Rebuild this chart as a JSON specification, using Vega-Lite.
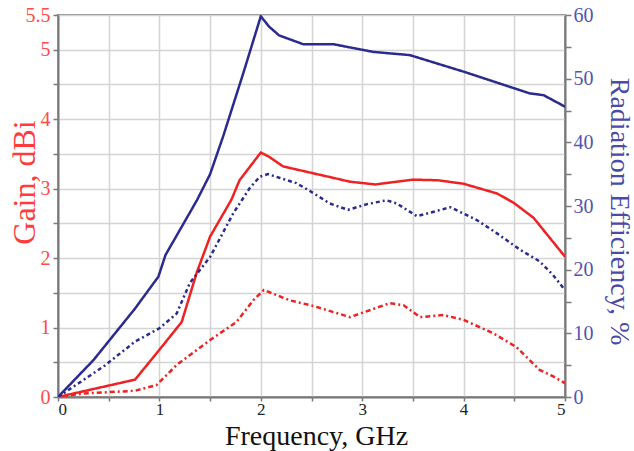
{
  "$schema": "https://vega.github.io/schema/vega-lite/v6.json",
  "width": 507,
  "height": 382,
  "autosize": "none",
  "padding": {"left": 58, "top": 15, "right": 69, "bottom": 54},
  "background": "white",
  "config": {
    "view": {"stroke": "#8a8a8a", "strokeWidth": 2},
    "font": "Liberation Serif"
  },
  "datasets": {
    "gain": [
      {"f": 0, "v": 0, "s": "Gain"},
      {"f": 0.76, "v": 0.25, "s": "Gain"},
      {"f": 1.0, "v": 0.68, "s": "Gain"},
      {"f": 1.22, "v": 1.08, "s": "Gain"},
      {"f": 1.37, "v": 1.8, "s": "Gain"},
      {"f": 1.5, "v": 2.31, "s": "Gain"},
      {"f": 1.71, "v": 2.84, "s": "Gain"},
      {"f": 1.79, "v": 3.12, "s": "Gain"},
      {"f": 2.0, "v": 3.52, "s": "Gain"},
      {"f": 2.08, "v": 3.46, "s": "Gain"},
      {"f": 2.22, "v": 3.32, "s": "Gain"},
      {"f": 2.58, "v": 3.2, "s": "Gain"},
      {"f": 2.88, "v": 3.1, "s": "Gain"},
      {"f": 3.13, "v": 3.06, "s": "Gain"},
      {"f": 3.5, "v": 3.13, "s": "Gain"},
      {"f": 3.75, "v": 3.12, "s": "Gain"},
      {"f": 4.0, "v": 3.07, "s": "Gain"},
      {"f": 4.33, "v": 2.93, "s": "Gain"},
      {"f": 4.49, "v": 2.8, "s": "Gain"},
      {"f": 4.69, "v": 2.58, "s": "Gain"},
      {"f": 5.0, "v": 2.02, "s": "Gain"},
      {"f": 0, "v": 0, "s": "Gain2"},
      {"f": 0.25, "v": 0.05, "s": "Gain2"},
      {"f": 0.76, "v": 0.09, "s": "Gain2"},
      {"f": 0.97, "v": 0.17, "s": "Gain2"},
      {"f": 1.17, "v": 0.46, "s": "Gain2"},
      {"f": 1.5, "v": 0.82, "s": "Gain2"},
      {"f": 1.76, "v": 1.08, "s": "Gain2"},
      {"f": 1.93, "v": 1.4, "s": "Gain2"},
      {"f": 2.03, "v": 1.54, "s": "Gain2"},
      {"f": 2.29, "v": 1.39, "s": "Gain2"},
      {"f": 2.52, "v": 1.31, "s": "Gain2"},
      {"f": 2.88, "v": 1.15, "s": "Gain2"},
      {"f": 3.27, "v": 1.35, "s": "Gain2"},
      {"f": 3.41, "v": 1.32, "s": "Gain2"},
      {"f": 3.57, "v": 1.15, "s": "Gain2"},
      {"f": 3.8, "v": 1.18, "s": "Gain2"},
      {"f": 4.0, "v": 1.11, "s": "Gain2"},
      {"f": 4.29, "v": 0.92, "s": "Gain2"},
      {"f": 4.52, "v": 0.72, "s": "Gain2"},
      {"f": 4.75, "v": 0.39, "s": "Gain2"},
      {"f": 4.88, "v": 0.3, "s": "Gain2"},
      {"f": 5.0, "v": 0.2, "s": "Gain2"}
    ],
    "eff": [
      {"f": 0, "v": 0, "s": "Eff"},
      {"f": 0.35, "v": 5.8, "s": "Eff"},
      {"f": 0.76, "v": 13.9, "s": "Eff"},
      {"f": 0.99, "v": 18.9, "s": "Eff"},
      {"f": 1.06, "v": 22.3, "s": "Eff"},
      {"f": 1.37, "v": 30.9, "s": "Eff"},
      {"f": 1.5, "v": 35.0, "s": "Eff"},
      {"f": 1.63, "v": 41.0, "s": "Eff"},
      {"f": 1.83, "v": 51.0, "s": "Eff"},
      {"f": 2.0, "v": 59.8, "s": "Eff"},
      {"f": 2.08, "v": 58.2, "s": "Eff"},
      {"f": 2.18, "v": 56.8, "s": "Eff"},
      {"f": 2.42, "v": 55.4, "s": "Eff"},
      {"f": 2.72, "v": 55.4, "s": "Eff"},
      {"f": 3.11, "v": 54.2, "s": "Eff"},
      {"f": 3.47, "v": 53.7, "s": "Eff"},
      {"f": 4.0, "v": 51.1, "s": "Eff"},
      {"f": 4.65, "v": 47.7, "s": "Eff"},
      {"f": 4.79, "v": 47.4, "s": "Eff"},
      {"f": 5.0, "v": 45.6, "s": "Eff"},
      {"f": 0, "v": 0, "s": "Eff2"},
      {"f": 0.45, "v": 4.8, "s": "Eff2"},
      {"f": 0.76, "v": 8.7, "s": "Eff2"},
      {"f": 1.0, "v": 10.8, "s": "Eff2"},
      {"f": 1.17, "v": 13.1, "s": "Eff2"},
      {"f": 1.3, "v": 17.9, "s": "Eff2"},
      {"f": 1.5, "v": 22.0, "s": "Eff2"},
      {"f": 1.73, "v": 28.9, "s": "Eff2"},
      {"f": 1.89, "v": 32.8, "s": "Eff2"},
      {"f": 1.99, "v": 34.6, "s": "Eff2"},
      {"f": 2.07, "v": 35.0, "s": "Eff2"},
      {"f": 2.19, "v": 34.4, "s": "Eff2"},
      {"f": 2.35, "v": 33.6, "s": "Eff2"},
      {"f": 2.48, "v": 32.4, "s": "Eff2"},
      {"f": 2.68, "v": 30.4, "s": "Eff2"},
      {"f": 2.86, "v": 29.4, "s": "Eff2"},
      {"f": 3.05, "v": 30.3, "s": "Eff2"},
      {"f": 3.24, "v": 30.9, "s": "Eff2"},
      {"f": 3.34, "v": 30.4, "s": "Eff2"},
      {"f": 3.54, "v": 28.4, "s": "Eff2"},
      {"f": 3.87, "v": 29.8, "s": "Eff2"},
      {"f": 4.13, "v": 27.8, "s": "Eff2"},
      {"f": 4.33, "v": 25.7, "s": "Eff2"},
      {"f": 4.56, "v": 23.1, "s": "Eff2"},
      {"f": 4.75, "v": 21.3, "s": "Eff2"},
      {"f": 4.88, "v": 19.2, "s": "Eff2"},
      {"f": 5.0, "v": 16.8, "s": "Eff2"}
    ]
  },
  "encoding": {
    "x": {
      "field": "f",
      "type": "quantitative",
      "scale": {"domain": [0, 5], "nice": false},
      "axis": {
        "title": "Frequency, GHz",
        "values": [0, 0.5, 1, 1.5, 2, 2.5, 3, 3.5, 4, 4.5, 5],
        "format": "~g",
        "labelExpr": "datum.value % 1 == 0 ? datum.label : ''",
        "labelFont": "Liberation Serif",
        "labelFontSize": 17,
        "labelColor": "#222222",
        "labelPadding": 0,
        "titleFont": "Liberation Serif",
        "titleFontSize": 28,
        "titleFontWeight": "normal",
        "titleColor": "#111111",
        "titleX": 258,
        "titleY": 47,
        "titleBaseline": "alphabetic",
        "titleAnchor": "middle",
        "domainColor": "#7a7a7a",
        "domainWidth": 2,
        "tickColor": "#7a7a7a",
        "tickWidth": 1.5,
        "tickSize": 4,
        "grid": true,
        "gridColor": "#d4d4d4",
        "gridWidth": 1.5
      }
    }
  },
  "layer": [
    {
      "data": {"name": "gain"},
      "mark": {"type": "line", "strokeWidth": 2.5, "clip": true},
      "encoding": {
        "y": {
          "field": "v",
          "type": "quantitative",
          "scale": {"domain": [0, 5.5], "nice": false},
          "axis": {
            "orient": "left",
            "title": "Gain, dBi",
            "values": [0, 0.5, 1, 1.5, 2, 2.5, 3, 3.5, 4, 4.5, 5, 5.5],
            "format": "~g",
            "labelExpr": "(datum.value % 1 == 0 || datum.value == 5.5) ? datum.label : ''",
            "labelFont": "Liberation Serif",
            "labelFontSize": 20,
            "labelColor": "#ff4a4a",
            "labelPadding": 3,
            "titleFont": "Liberation Serif",
            "titleFontSize": 32,
            "titleFontWeight": "normal",
            "titleColor": "#ff3b3b",
            "titleAngle": -90,
            "titleX": -34,
            "titleY": 167,
            "titleBaseline": "middle",
            "titleAlign": "center",
            "domainColor": "#7a7a7a",
            "domainWidth": 2,
            "tickColor": "#7a7a7a",
            "tickWidth": 1.5,
            "tickSize": 5,
            "grid": true,
            "gridColor": "#d4d4d4",
            "gridWidth": 1.5
          }
        },
        "color": {
          "field": "s",
          "type": "nominal",
          "scale": {"domain": ["Gain", "Gain2", "Eff", "Eff2"], "range": ["#ee2222", "#ee2222", "#2b2b8f", "#2b2b8f"]},
          "legend": null
        },
        "strokeDash": {
          "field": "s",
          "type": "nominal",
          "scale": {"domain": ["Gain", "Gain2", "Eff", "Eff2"], "range": [[1, 0], [5, 3, 2, 3], [1, 0], [4, 3, 2, 3]]},
          "legend": null
        }
      }
    },
    {
      "data": {"name": "eff"},
      "mark": {"type": "line", "strokeWidth": 2.5, "clip": true},
      "encoding": {
        "y": {
          "field": "v",
          "type": "quantitative",
          "scale": {"domain": [0, 60], "nice": false},
          "axis": {
            "orient": "right",
            "title": "Radiation Efficiency, %",
            "values": [0, 5, 10, 15, 20, 25, 30, 35, 40, 45, 50, 55, 60],
            "format": "~g",
            "labelExpr": "datum.value % 10 == 0 ? datum.label : ''",
            "labelFont": "Liberation Serif",
            "labelFontSize": 20,
            "labelColor": "#5353b0",
            "labelPadding": 2,
            "titleFont": "Liberation Serif",
            "titleFontSize": 28,
            "titleFontWeight": "normal",
            "titleColor": "#4a4aa8",
            "titleAngle": 90,
            "titleX": 53,
            "titleY": 196,
            "titleBaseline": "middle",
            "titleAlign": "center",
            "domainColor": "#7a7a7a",
            "domainWidth": 2,
            "tickColor": "#7a7a7a",
            "tickWidth": 1.5,
            "tickSize": 6,
            "grid": false
          }
        },
        "color": {
          "field": "s",
          "type": "nominal",
          "scale": {"domain": ["Gain", "Gain2", "Eff", "Eff2"], "range": ["#ee2222", "#ee2222", "#2b2b8f", "#2b2b8f"]},
          "legend": null
        },
        "strokeDash": {
          "field": "s",
          "type": "nominal",
          "scale": {"domain": ["Gain", "Gain2", "Eff", "Eff2"], "range": [[1, 0], [5, 3, 2, 3], [1, 0], [4, 3, 2, 3]]},
          "legend": null
        }
      }
    }
  ],
  "resolve": {"scale": {"y": "independent"}}
}
